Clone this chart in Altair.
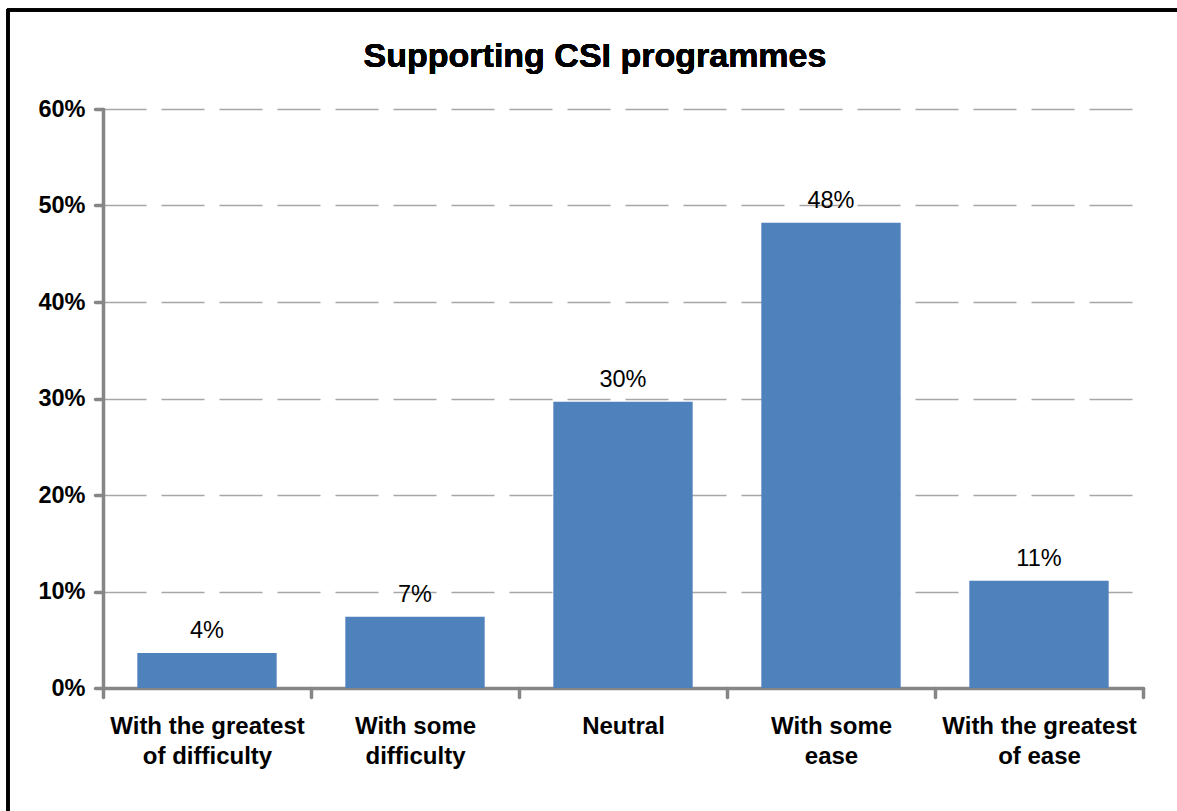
import altair as alt
import pandas as pd

categories = [
    "With the greatest\nof difficulty",
    "With some\ndifficulty",
    "Neutral",
    "With some\nease",
    "With the greatest\nof ease",
]
values = [3.63, 7.39, 29.67, 48.2, 11.12]
value_labels = ["4%", "7%", "30%", "48%", "11%"]
y_ticks = [0, 10, 20, 30, 40, 50, 60]
chart_title = "Supporting CSI programmes"

df = pd.DataFrame({"cat": categories, "val": values, "lab": value_labels})

AXIS_GRAY = "#868686"
FONT = "Liberation Sans"

y_scale = alt.Scale(domain=[0, 60], nice=False, zero=True)

y_enc = alt.Y(
    "val:Q",
    scale=y_scale,
    axis=alt.Axis(
        title=None,
        values=y_ticks,
        labelExpr="datum.value + '%'",
        labelFont=FONT,
        labelFontSize=23.5,
        labelFontWeight="bold",
        labelColor="black",
        labelPadding=10,
        tickSize=8,
        tickWidth=3.5,
        tickColor=AXIS_GRAY,
        tickCap="round",
        domainColor=AXIS_GRAY,
        domainWidth=3.5,
        domainCap="round",
        grid=True,
        gridColor="#A6A6A6",
        gridWidth=1.3,
        gridDash=[43, 15],
    ),
)

base = alt.Chart(df)

# bars: padded band scale, no axis of their own
bars = base.mark_bar(color="#4F81BD").encode(
    x=alt.X(
        "cat:N",
        sort=categories,
        scale=alt.Scale(paddingInner=0.33, paddingOuter=0.165),
        axis=None,
    ),
    y=y_enc,
)

# value labels: unpadded band scale (same centres), carries the x axis
texts = base.mark_text(
    font=FONT, fontSize=23.5, color="black", baseline="alphabetic", dy=-15
).encode(
    x=alt.X(
        "cat:N",
        sort=categories,
        scale=alt.Scale(paddingInner=0, paddingOuter=0),
        axis=alt.Axis(
            title=None,
            labelExpr="split(datum.label, '\\n')",
            labelAngle=0,
            labelFont=FONT,
            labelFontSize=24,
            labelFontWeight="bold",
            labelColor="black",
            labelLineHeight=30,
            labelPadding=17,
            labelLimit=0,
            tickBand="extent",
            tickSize=9,
            tickWidth=3.5,
            tickColor=AXIS_GRAY,
            tickCap="round",
            domainColor=AXIS_GRAY,
            domainWidth=3.5,
            domainCap="round",
            grid=False,
        ),
    ),
    y=alt.Y("val:Q", scale=y_scale),
    text="lab:N",
)

title_mark = alt.Chart(df).mark_text(
    font=FONT, fontSize=34, fontWeight="bold", color="black",
    align="center", baseline="alphabetic",
).encode(x=alt.value(492), y=alt.value(-42), text=alt.value(chart_title))

border_top = alt.Chart(df).mark_rule(color="black", strokeWidth=3).encode(
    x=alt.value(-96), x2=alt.value(1100), y=alt.value(-99)
)
border_left = alt.Chart(df).mark_rule(color="black", strokeWidth=3).encode(
    x=alt.value(-95), y=alt.value(-100), y2=alt.value(720)
)

chart = (
    alt.layer(bars, texts, title_mark, border_top, border_left)
    .resolve_scale(x="independent")
    .properties(
        width=1040,
        height=579,
        view=alt.ViewBackground(strokeWidth=0, strokeOpacity=0),
        autosize=alt.AutoSizeParams(type="none"),
        padding={"left": 103, "top": 109, "right": 34, "bottom": 123},
    )
    .configure_view(strokeWidth=0, strokeOpacity=0)
    .configure(background="white")
)

chart.save("out.html", embed_options={"renderer": "svg", "actions": False})
